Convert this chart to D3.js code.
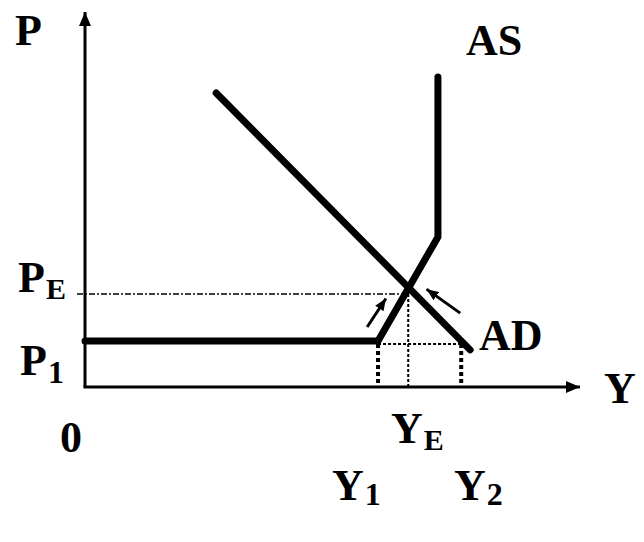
<!DOCTYPE html>
<html><head><meta charset="utf-8">
<script src="https://cdn.jsdelivr.net/npm/d3@7/dist/d3.min.js"></script>
<style>html,body{margin:0;padding:0;background:#fff;}svg{display:block;}</style>
</head><body>
<script>
// Data (abstract units: x = output Y, y = price P)
const asCurve = [[0,12.3],[59.2,12.3],[71.3,40],[71.3,82.7]];
const adCurve = [[26.5,78.4],[77.8,9.9]];
const levels = {P1:12.3, PE:24.8};
const outputs = {Y1:59.2, YE:65.3, Y2:76.0};
const hDotY = 11.5;
const moveArrows = [[[57.0,16.0],[60.8,23.6]],[[75.8,19.7],[69.0,26.1]]];

const W=644,H=542;
const x=d3.scaleLinear().domain([0,100]).range([85,580]);
const y=d3.scaleLinear().domain([0,100]).range([387,12]);
const svg=d3.select("body").append("svg").attr("width",W).attr("height",H);
const defs=svg.append("defs");
defs.append("marker").attr("id","axh").attr("viewBox","0 0 14 12").attr("refX",14).attr("refY",6)
 .attr("markerWidth",14).attr("markerHeight",12).attr("markerUnits","userSpaceOnUse").attr("orient","auto")
 .append("path").attr("d","M0,0L14,6L0,12Z").attr("fill","#000");
defs.append("marker").attr("id","sh").attr("viewBox","0 0 12 10").attr("refX",12).attr("refY",5)
 .attr("markerWidth",12).attr("markerHeight",10).attr("markerUnits","userSpaceOnUse").attr("orient","auto")
 .append("path").attr("d","M0,0L12,5L0,10Z").attr("fill","#000");

const line=d3.line().x(d=>x(d[0])).y(d=>y(d[1]));
// axes
svg.append("line").attr("x1",x(0)).attr("y1",y(0)).attr("x2",x(0)).attr("y2",y(100))
 .attr("stroke","#000").attr("stroke-width",3).attr("marker-end","url(#axh)");
svg.append("line").attr("x1",x(0)-1.5).attr("y1",y(0)).attr("x2",x(100)).attr("y2",y(0))
 .attr("stroke","#000").attr("stroke-width",3).attr("marker-end","url(#axh)");

// guide lines
svg.append("line").attr("x1",x(0)-8).attr("x2",x(outputs.YE)-4).attr("y1",y(levels.PE)).attr("y2",y(levels.PE))
 .attr("stroke","#000").attr("stroke-width",1.5).attr("stroke-dasharray","6,2,2,2");
svg.append("line").attr("x1",x(outputs.YE)).attr("x2",x(outputs.YE)).attr("y1",y(levels.PE)).attr("y2",y(0))
 .attr("stroke","#000").attr("stroke-width",2).attr("stroke-dasharray","3,2");
svg.append("line").attr("x1",x(outputs.Y1)).attr("x2",x(outputs.Y2)).attr("y1",y(hDotY)).attr("y2",y(hDotY))
 .attr("stroke","#000").attr("stroke-width",2).attr("stroke-dasharray","3,2");
[outputs.Y1,outputs.Y2].forEach(v=>{
 svg.append("line").attr("x1",x(v)).attr("x2",x(v)).attr("y1",y(hDotY)).attr("y2",y(0))
 .attr("stroke","#000").attr("stroke-width",4).attr("stroke-dasharray","4,3");
});

// curves
svg.append("path").attr("d",line(asCurve)).attr("fill","none").attr("stroke","#000")
 .attr("stroke-width",7).attr("stroke-linecap","round").attr("stroke-linejoin","miter");
svg.append("path").attr("d",line(adCurve)).attr("fill","none").attr("stroke","#000")
 .attr("stroke-width",7).attr("stroke-linecap","round");

// movement arrows
moveArrows.forEach(a=>{
 svg.append("line").attr("x1",x(a[0][0])).attr("y1",y(a[0][1])).attr("x2",x(a[1][0])).attr("y2",y(a[1][1]))
 .attr("stroke","#000").attr("stroke-width",3).attr("marker-end","url(#sh)");
});

// labels
const F="'Liberation Serif','Times New Roman',serif";
function lab(t,px,py,sub,subSize,dy){
 const g=svg.append("g").attr("fill","#000").style("font-family",F).style("font-weight","bold");
 const te=g.append("text").attr("x",px).attr("y",py).style("font-size","44px").text(t);
 if(sub){
  const w=te.node().getComputedTextLength();
  g.append("text").attr("x",px+w+1).attr("y",py+dy).style("font-size",subSize+"px").text(sub);
 }
}
lab("P",15,45);
lab("AS",466,55);
lab("AD",479,350);
lab("Y",604,403);
lab("0",60,452);
lab("P",18,292,"E",30,7);
lab("P",20,375,"1",32,8);
lab("Y",391,443,"E",30,7);
lab("Y",332,500,"1",32,5);
lab("Y",454,500,"2",32,5);
</script>
</body></html>
